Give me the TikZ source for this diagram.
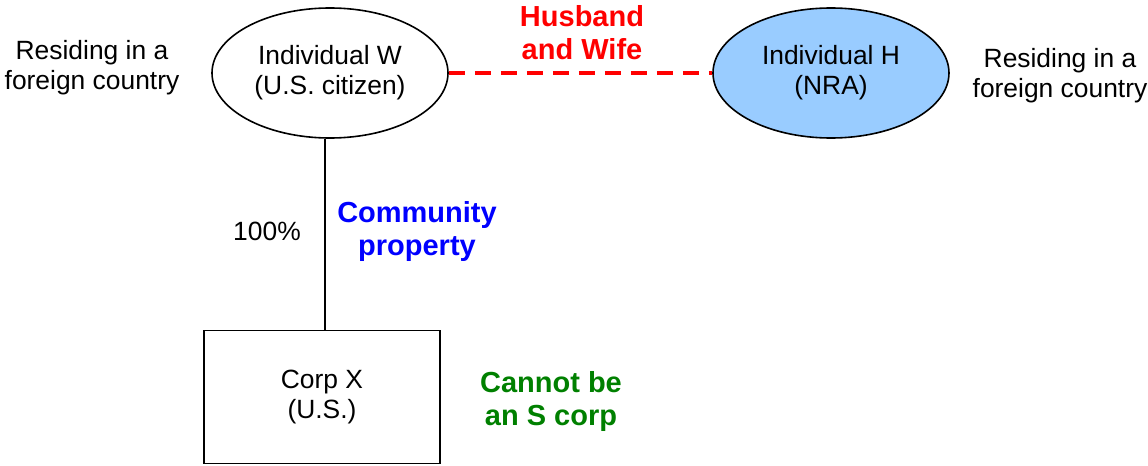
\documentclass[tikz,border=0pt]{standalone}
\usepackage{fontspec}
\setmainfont{Liberation Sans}
\usetikzlibrary{shapes.geometric}
\definecolor{nrablue}{HTML}{99CCFF}
\definecolor{sgreen}{HTML}{008000}
\begin{document}
\begin{tikzpicture}[x=0.5pt,y=-0.5pt,line width=0.8pt,
  every node/.style={align=center,font=\fontsize{13.2}{15}\selectfont},
  bold/.style={font=\fontsize{14.5}{16.5}\selectfont\bfseries}]
  \useasboundingbox (0,0) rectangle (1148,466);
  \begin{scope}[every node/.append style={draw,ellipse,minimum width=118pt,minimum height=65pt}]
    \node (W) at (330,73) {Individual W\\(U.S. citizen)};
    \node[fill=nrablue] (H) at (831,73) {Individual H\\(NRA)};
  \end{scope}
  \node[draw,minimum width=118pt,minimum height=66.5pt] (X) at (322,397) {Corp X\\(U.S.)};

  \node (resW) at (92,68) {Residing in a\\foreign country};
  \node (resH) at (1060,76) {Residing in a\\foreign country};
  \node[bold,red] (hw) at (582,33) {Husband\\and Wife};
  \node (pct) at (267,231) {100\%};
  \node[bold,blue] (cp) at (417,232) {Community\\property};
  \node[bold,sgreen] (sc) at (551,401) {Cannot be\\an S corp};

  \draw[red,line width=2pt,dash pattern=on 8pt off 5pt] (W) -- (H);
  \draw ([xshift=1.5pt]X.north) -- ([xshift=1.5pt]X.north |- W.south);
\end{tikzpicture}
\end{document}
